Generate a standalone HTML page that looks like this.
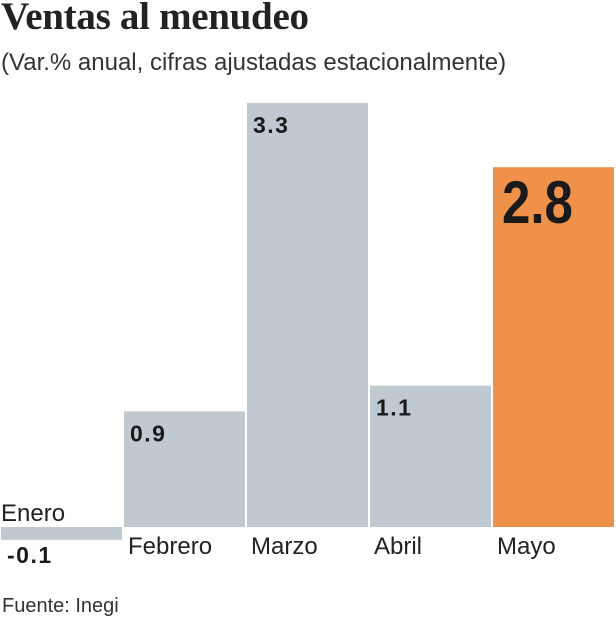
<!DOCTYPE html>
<html><head><meta charset="utf-8"><style>
body{margin:0;width:616px;height:620px;background:#fff;overflow:hidden;font-family:"Liberation Sans",sans-serif}
#title{position:absolute;left:1px;top:-6px;font:bold 39px "Liberation Serif",serif;color:#222;letter-spacing:-0.3px}
#sub{position:absolute;left:1px;top:49px;font-size:24px;color:#333}
#src{position:absolute;left:2px;top:595px;font-size:20px;color:#333}
svg{position:absolute;left:0;top:0}
</style></head><body>
<div id="title">Ventas al menudeo</div>
<div id="sub">(Var.% anual, cifras ajustadas estacionalmente)</div>
<div id="src">Fuente: Inegi</div>
<svg id="chart" width="616" height="620"></svg>
<script>
const categories=["Enero","Febrero","Marzo","Abril","Mayo"];
const values=[-0.1,0.9,3.3,1.1,2.8];
const labels=["-0.1","0.9","3.3","1.1","2.8"];
const highlight=[false,false,false,false,true];
const NS="http://www.w3.org/2000/svg";
const svg=document.getElementById("chart");
const base=527, scale=128.5, slotW=123, x0=1;
function y(v){return base-v*scale;}
function mk(t,a){const e=document.createElementNS(NS,t);for(const k in a)e.setAttribute(k,a[k]);svg.appendChild(e);return e;}
values.forEach((v,i)=>{
  const x=x0+i*slotW, w=slotW-2;
  const top=Math.min(y(v),base), h=Math.abs(y(v)-base);
  const r=mk("rect",{x:x,y:top,width:w,height:h,fill:highlight[i]?"#f0914a":"#bfc9cf"});
  
  
  let t;
  if(highlight[i]){
    t=mk("text",{x:x+9,y:top+56,"font-size":60,"font-weight":"bold",fill:"#1a1a1a","font-family":"Liberation Sans Narrow, Liberation Sans, sans-serif",transform:`translate(${x+9} ${top+56}) scale(0.85 1) translate(${-(x+9)} ${-(top+56)})`});
  } else if(v<0){
    t=mk("text",{x:x+6,y:base+36,"font-size":23,"font-weight":"bold",fill:"#1a1a1a","letter-spacing":1.5});
  } else {
    t=mk("text",{x:x+6,y:top+30,"font-size":23,"font-weight":"bold",fill:"#1a1a1a","letter-spacing":1.5});
  }
  t.textContent=labels[i];
  
  
  const c=mk("text",{x:v<0?x:x+4,y:v<0?base-6:base+27,"font-size":24,fill:"#222"});
  c.textContent=categories[i];
  
  
});
</script>
</body></html>
